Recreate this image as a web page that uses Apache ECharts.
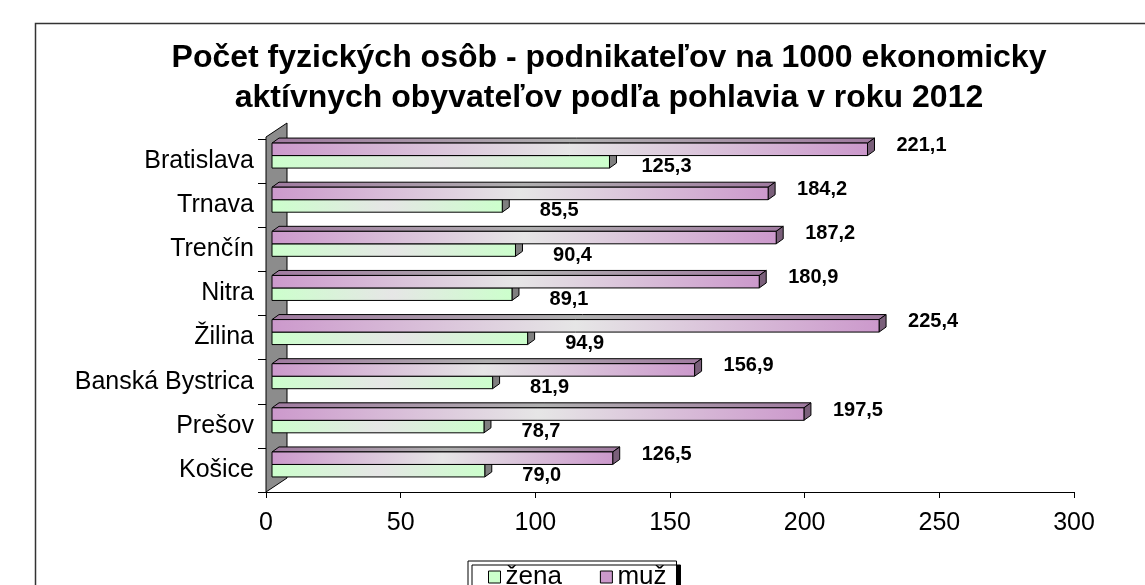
<!DOCTYPE html>
<html>
<head>
<meta charset="utf-8">
<script src="https://cdn.jsdelivr.net/npm/echarts@6/dist/echarts.min.js"></script>
<style>
  html, body { margin: 0; padding: 0; background: #fff; }
  #chart { width: 1145px; height: 585px; }
</style>
</head>
<body>
<div id="chart"></div>
<script>
// regions, top to bottom
const categories = ['Bratislava', 'Trnava', 'Trenčín', 'Nitra', 'Žilina', 'Banská Bystrica', 'Prešov', 'Košice'];
const zena = [125.3, 85.5, 90.4, 89.1, 94.9, 81.9, 78.7, 79.0];
const muz = [221.1, 184.2, 187.2, 180.9, 225.4, 156.9, 197.5, 126.5];
const seriesNames = ['žena', 'muž'];
const xMin = 0, xMax = 300, xStep = 50;

const FONT = '"Liberation Sans", Arial, sans-serif';
const PLANE_DX = 6;          // bars sit a bit behind the front plane
const DEPTH_DX = 7, DEPTH_DY = -5;

const fmt = v => v.toFixed(1).replace('.', ',');

// 3D-ish box bar drawn from the axis scales
function boxBar(cfg) {
  return function (params, api) {
    const v = api.value(0);
    const i = api.value(1);
    const base = api.coord([0, i]);
    const end = api.coord([v, i]);
    const c = base[1];
    const x1 = base[0] + PLANE_DX, x2 = end[0] + PLANE_DX;
    const y1 = c + cfg.top, y2 = c + cfg.bottom;
    const edge = { stroke: '#000', lineWidth: 1 };
    return {
      type: 'group',
      children: [
        {
          type: 'polygon',
          shape: { points: [[x1, y1], [x2, y1], [x2 + DEPTH_DX, y1 + DEPTH_DY], [x1 + DEPTH_DX, y1 + DEPTH_DY]] },
          style: Object.assign({
            fill: new echarts.graphic.LinearGradient(0, 0, 1, 0, [
              { offset: 0, color: cfg.topEnd }, { offset: 0.5, color: cfg.topMid }, { offset: 1, color: cfg.topEnd }
            ])
          }, edge)
        },
        {
          type: 'polygon',
          shape: { points: [[x2, y1], [x2 + DEPTH_DX, y1 + DEPTH_DY], [x2 + DEPTH_DX, y2 + DEPTH_DY], [x2, y2]] },
          style: Object.assign({ fill: cfg.side }, edge)
        },
        {
          type: 'rect',
          shape: { x: x1, y: y1, width: x2 - x1, height: y2 - y1 },
          style: Object.assign({
            fill: new echarts.graphic.LinearGradient(0, 0, 1, 0, [
              { offset: 0, color: cfg.end }, { offset: 0.5, color: cfg.mid }, { offset: 1, color: cfg.end }
            ])
          }, edge)
        },
        {
          type: 'text',
          x: x2 + cfg.labelDx,
          y: (y1 + y2) / 2 + cfg.labelDy,
          style: { text: fmt(v), font: 'bold 20px ' + FONT, fill: '#000', align: 'center', verticalAlign: 'middle' }
        }
      ]
    };
  };
}

// grey back wall on the category side
function wall(params, api) {
  const cs = params.coordSys;
  const x = cs.x, top = cs.y, bot = cs.y + cs.height;
  return {
    type: 'polygon',
    shape: { points: [[x, top - 2], [x + 21, top - 16], [x + 21, bot - 14], [x, bot]] },
    style: { fill: '#8c8c8c', stroke: '#000', lineWidth: 1 }
  };
}

const chart = echarts.init(document.getElementById('chart'));

chart.setOption({
  animation: false,
  backgroundColor: '#fff',
  textStyle: { fontFamily: FONT, color: '#000' },
  title: {
    text: 'Počet fyzických osôb - podnikateľov na 1000 ekonomicky\naktívnych obyvateľov podľa pohlavia v roku 2012',
    left: 604,
    top: 33,
    textAlign: 'center',
    textStyle: { fontSize: 32, fontWeight: 'bold', lineHeight: 40, color: '#000', fontFamily: FONT }
  },
  graphic: [
    {
      type: 'rect',
      shape: { x: 35.5, y: 23.5, width: 1300, height: 800 },
      style: { fill: null, stroke: '#333', lineWidth: 1.5 },
      z: -1
    }
  ],
  legend: {
    data: seriesNames,
    left: 468,
    top: 561,
    icon: 'rect',
    itemWidth: 12,
    itemHeight: 12,
    itemGap: 38,
    padding: [3, 10, 3, 20],
    backgroundColor: '#fff',
    borderColor: '#000',
    borderWidth: 1,
    shadowColor: '#000',
    shadowOffsetX: 4,
    shadowOffsetY: 4,
    shadowBlur: 0,
    itemStyle: { borderColor: '#000', borderWidth: 1 },
    textStyle: { fontSize: 26, color: '#000', fontFamily: FONT }
  },
  grid: { left: 266, right: 71, top: 139, bottom: 93, containLabel: false },
  xAxis: {
    type: 'value',
    min: xMin,
    max: xMax,
    interval: xStep,
    axisLine: { show: true, lineStyle: { color: '#000', width: 1 } },
    axisTick: { show: true, length: 6, lineStyle: { color: '#000' } },
    axisLabel: { fontSize: 25, color: '#000', margin: 19, fontFamily: FONT },
    splitLine: { show: false }
  },
  yAxis: {
    type: 'category',
    data: categories,
    inverse: true,
    axisLine: { show: false },
    axisTick: { show: true, length: 8, lineStyle: { color: '#000' } },
    axisLabel: { fontSize: 25, color: '#000', margin: 12, padding: [8, 0, 0, 0], fontFamily: FONT }
  },
  series: [
    {
      type: 'custom',
      name: 'wall',
      renderItem: wall,
      data: [[0, 0]],
      encode: { x: 0, y: 1 },
      silent: true,
      z: 1
    },
    {
      type: 'custom',
      name: seriesNames[0],
      itemStyle: { color: '#ccffcc' },
      renderItem: boxBar({
        top: -5.5, bottom: 7,
        end: '#ccffcc', mid: '#e6e6e6',
        topEnd: '#99bf99', topMid: '#acacac',
        side: '#7f7f7f',
        labelDx: 57, labelDy: 5
      }),
      data: zena.map((v, i) => [v, i]),
      encode: { x: 0, y: 1 },
      z: 2
    },
    {
      type: 'custom',
      name: seriesNames[1],
      itemStyle: { color: '#cc99cc' },
      renderItem: boxBar({
        top: -18, bottom: -5.5,
        end: '#cc99cc', mid: '#e6e6e6',
        topEnd: '#a07aa0', topMid: '#b0b0b0',
        side: '#7a5f7a',
        labelDx: 54, labelDy: -4
      }),
      data: muz.map((v, i) => [v, i]),
      encode: { x: 0, y: 1 },
      z: 3
    }
  ]
});
</script>
</body>
</html>
